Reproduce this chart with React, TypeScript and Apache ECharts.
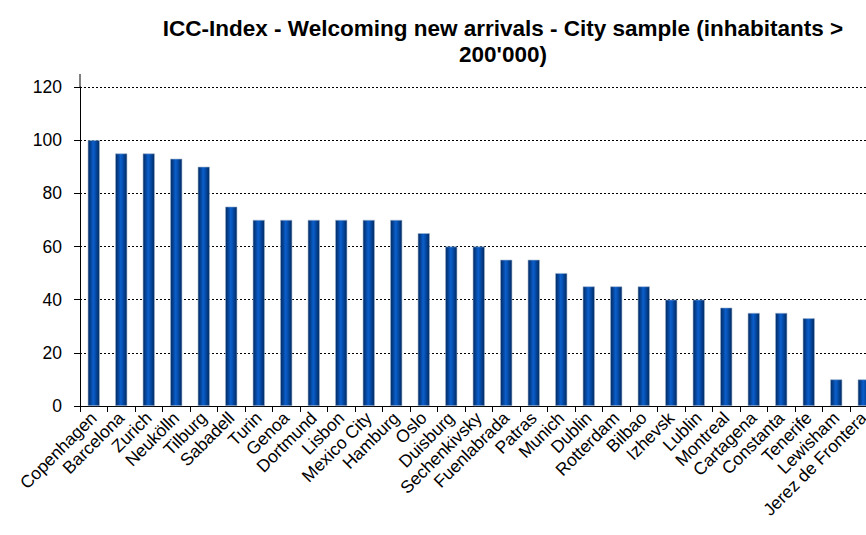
import React, { useEffect, useRef } from "react";
import * as echarts from "echarts";

const titleText = "ICC-Index - Welcoming new arrivals - City sample (inhabitants >\n200'000)";

const cities = [
  "Copenhagen", "Barcelona", "Zurich", "Neukölln", "Tilburg", "Sabadell", "Turin",
  "Genoa", "Dortmund", "Lisbon", "Mexico City", "Hamburg", "Oslo", "Duisburg",
  "Sechenkivsky", "Fuenlabrada", "Patras", "Munich", "Dublin", "Rotterdam", "Bilbao",
  "Izhevsk", "Lublin", "Montreal", "Cartagena", "Constanta", "Tenerife", "Lewisham",
  "Jerez de Frontera",
];

const indexValues = [
  100, 95, 95, 93, 90, 75, 70,
  70, 70, 70, 70, 70, 65, 60,
  60, 55, 55, 50, 45, 45, 45,
  40, 40, 37, 35, 35, 33, 10,
  10,
];

const yMin = 0;
const yMax = 120;
const yStep = 20;

const FONT = "'Liberation Sans', Arial, sans-serif";
const GRID_LEFT = 80;
const AXIS_OVERHANG = 13;

export default function App() {
  const ref = useRef<HTMLDivElement | null>(null);

  useEffect(() => {
    if (!ref.current) return;
    const chart = echarts.init(ref.current, undefined, { renderer: "svg" });

    // cylinder-like shading across each bar
    const barFill = new echarts.graphic.LinearGradient(0, 0, 1, 0, [
      { offset: 0, color: "#00275e" },
      { offset: 0.45, color: "#0b5fcc" },
      { offset: 0.6, color: "#0652b4" },
      { offset: 1, color: "#00275e" },
    ]);

    chart.setOption({
      animation: false,
      backgroundColor: "#ffffff",
      title: {
        text: titleText,
        left: 498,
        top: 10,
        textAlign: "center",
        textStyle: {
          fontFamily: FONT,
          fontSize: 22.5,
          fontWeight: "bold",
          color: "#000",
          lineHeight: 26,
        },
      },
      // the plot runs past the right edge of the canvas, so the last bar is clipped
      grid: {
        left: GRID_LEFT,
        top: 87,
        width: 797.5,
        height: 319,
        containLabel: false,
        outerBoundsMode: "none",
      },
      xAxis: {
        type: "category",
        data: cities,
        boundaryGap: true,
        axisLine: { show: true, lineStyle: { color: "#000", width: 1 } },
        axisTick: { show: true, length: 6, alignWithLabel: false, lineStyle: { color: "#000" } },
        axisLabel: {
          interval: 0,
          rotate: 45,
          margin: 9,
          fontFamily: FONT,
          fontSize: 17.5,
          color: "#000",
        },
        splitLine: { show: false },
      },
      yAxis: {
        type: "value",
        min: yMin,
        max: yMax,
        interval: yStep,
        axisLine: { show: true, lineStyle: { color: "#000", width: 1 } },
        axisTick: { show: true, length: 6, lineStyle: { color: "#000" } },
        axisLabel: { margin: 18, fontFamily: FONT, fontSize: 17.5, color: "#000" },
        splitLine: { show: true, lineStyle: { color: "#000", width: 1, type: [2, 2] } },
      },
      series: [
        {
          type: "bar",
          data: indexValues,
          barWidth: 12,
          itemStyle: {
            color: barFill,
            borderColor: "#9fb3cf",
            borderWidth: 0.6,
          },
        },
      ],
    });

    // the value axis line continues a little above its top tick
    const topY = chart.convertToPixel({ yAxisIndex: 0 }, yMax) as number;
    chart.setOption({
      graphic: [
        {
          type: "line",
          silent: true,
          shape: { x1: GRID_LEFT, y1: topY - AXIS_OVERHANG, x2: GRID_LEFT, y2: topY },
          style: { stroke: "#000", lineWidth: 1 },
        },
      ],
    });

    return () => chart.dispose();
  }, []);

  return (
    <div
      ref={ref}
      style={{ position: "fixed", left: 0, top: 0, width: 866, height: 535, background: "#fff" }}
    />
  );
}
